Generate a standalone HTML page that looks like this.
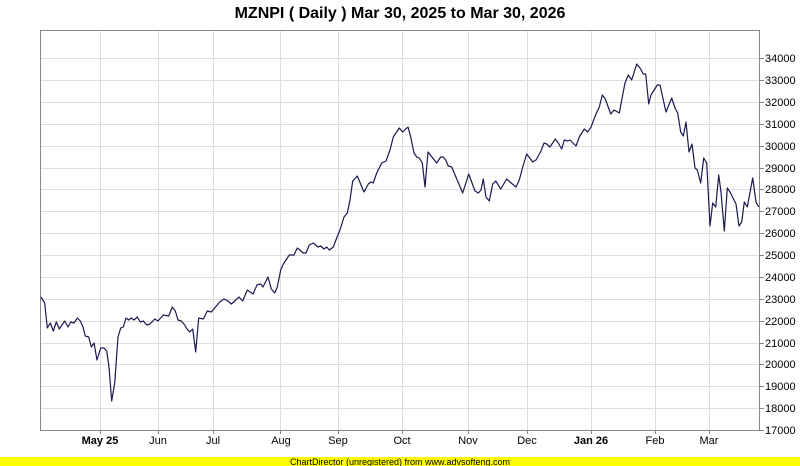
<!DOCTYPE html>
<html><head><meta charset="utf-8"><style>
html,body{margin:0;padding:0;background:#fff}
svg{display:block;font-family:"Liberation Sans",sans-serif}
</style></head><body>
<svg width="800" height="466" viewBox="0 0 800 466" xmlns="http://www.w3.org/2000/svg">
<rect width="800" height="466" fill="#fff"/>
<text x="400" y="18" text-anchor="middle" font-size="16" font-weight="bold" fill="#000">MZNPI ( Daily ) Mar 30, 2025 to Mar 30, 2026</text>
<g stroke="#dcdcdc" stroke-width="1">
<line x1="40" x2="760" y1="58.5" y2="58.5"/><line x1="40" x2="760" y1="80.5" y2="80.5"/><line x1="40" x2="760" y1="102.5" y2="102.5"/><line x1="40" x2="760" y1="124.5" y2="124.5"/><line x1="40" x2="760" y1="146.5" y2="146.5"/><line x1="40" x2="760" y1="168.5" y2="168.5"/><line x1="40" x2="760" y1="189.5" y2="189.5"/><line x1="40" x2="760" y1="211.5" y2="211.5"/><line x1="40" x2="760" y1="233.5" y2="233.5"/><line x1="40" x2="760" y1="255.5" y2="255.5"/><line x1="40" x2="760" y1="277.5" y2="277.5"/><line x1="40" x2="760" y1="299.5" y2="299.5"/><line x1="40" x2="760" y1="321.5" y2="321.5"/><line x1="40" x2="760" y1="343.5" y2="343.5"/><line x1="40" x2="760" y1="364.5" y2="364.5"/><line x1="40" x2="760" y1="386.5" y2="386.5"/><line x1="40" x2="760" y1="408.5" y2="408.5"/>
<line x1="100.5" x2="100.5" y1="30" y2="430"/><line x1="158.5" x2="158.5" y1="30" y2="430"/><line x1="213.5" x2="213.5" y1="30" y2="430"/><line x1="280.5" x2="280.5" y1="30" y2="430"/><line x1="338.5" x2="338.5" y1="30" y2="430"/><line x1="402.5" x2="402.5" y1="30" y2="430"/><line x1="468.5" x2="468.5" y1="30" y2="430"/><line x1="527.5" x2="527.5" y1="30" y2="430"/><line x1="591.5" x2="591.5" y1="30" y2="430"/><line x1="655.5" x2="655.5" y1="30" y2="430"/><line x1="709.5" x2="709.5" y1="30" y2="430"/>
</g>
<rect x="40.5" y="30.5" width="719" height="400" fill="none" stroke="#888" stroke-width="1"/>
<g stroke="#888" stroke-width="1">
<line x1="760" x2="764" y1="58.5" y2="58.5"/><line x1="760" x2="764" y1="80.5" y2="80.5"/><line x1="760" x2="764" y1="102.5" y2="102.5"/><line x1="760" x2="764" y1="124.5" y2="124.5"/><line x1="760" x2="764" y1="146.5" y2="146.5"/><line x1="760" x2="764" y1="168.5" y2="168.5"/><line x1="760" x2="764" y1="189.5" y2="189.5"/><line x1="760" x2="764" y1="211.5" y2="211.5"/><line x1="760" x2="764" y1="233.5" y2="233.5"/><line x1="760" x2="764" y1="255.5" y2="255.5"/><line x1="760" x2="764" y1="277.5" y2="277.5"/><line x1="760" x2="764" y1="299.5" y2="299.5"/><line x1="760" x2="764" y1="321.5" y2="321.5"/><line x1="760" x2="764" y1="343.5" y2="343.5"/><line x1="760" x2="764" y1="364.5" y2="364.5"/><line x1="760" x2="764" y1="386.5" y2="386.5"/><line x1="760" x2="764" y1="408.5" y2="408.5"/><line x1="760" x2="764" y1="430.5" y2="430.5"/>
<line x1="100.5" x2="100.5" y1="430" y2="434"/><line x1="158.5" x2="158.5" y1="430" y2="434"/><line x1="213.5" x2="213.5" y1="430" y2="434"/><line x1="280.5" x2="280.5" y1="430" y2="434"/><line x1="338.5" x2="338.5" y1="430" y2="434"/><line x1="402.5" x2="402.5" y1="430" y2="434"/><line x1="468.5" x2="468.5" y1="430" y2="434"/><line x1="527.5" x2="527.5" y1="430" y2="434"/><line x1="591.5" x2="591.5" y1="430" y2="434"/><line x1="655.5" x2="655.5" y1="430" y2="434"/><line x1="709.5" x2="709.5" y1="430" y2="434"/>
</g>
<g font-size="11" fill="#000">
<text x="765" y="62">34000</text><text x="765" y="84">33000</text><text x="765" y="106">32000</text><text x="765" y="128">31000</text><text x="765" y="150">30000</text><text x="765" y="172">29000</text><text x="765" y="193">28000</text><text x="765" y="215">27000</text><text x="765" y="237">26000</text><text x="765" y="259">25000</text><text x="765" y="281">24000</text><text x="765" y="303">23000</text><text x="765" y="325">22000</text><text x="765" y="347">21000</text><text x="765" y="368">20000</text><text x="765" y="390">19000</text><text x="765" y="412">18000</text><text x="765" y="434">17000</text>
</g>
<g font-size="11" fill="#000" text-anchor="middle">
<text x="100" y="444" font-weight="bold">May 25</text><text x="158" y="444">Jun</text><text x="213" y="444">Jul</text><text x="281" y="444">Aug</text><text x="338" y="444">Sep</text><text x="402" y="444">Oct</text><text x="468" y="444">Nov</text><text x="527" y="444">Dec</text><text x="591" y="444" font-weight="bold">Jan 26</text><text x="655" y="444">Feb</text><text x="709" y="444">Mar</text>
</g>
<polyline fill="none" stroke="#1a1a50" stroke-width="1.2" stroke-linejoin="round" points="
41,297 44.7,303 47.3,328 50.3,323 53.3,331 56.3,322 59.3,329 64.7,321 68,327 70.7,322 74,323 77.3,318 80.3,321 83,327 85.3,336 88.7,337 91.3,347 94,343 97,360 100.7,348 104,348 106.7,351 109,367 111.7,401 114.7,383 118,337 120.7,328 123.3,327 126,318 128.7,320 131.3,318 134,320 137.3,317 140.3,322 143.3,321 146.7,325 150,324 154.7,319 158,321 163.3,315 168.7,316 172.3,307 175.3,311 178,320 181.3,321 184.7,325 187,329 189.7,332 192.7,329 195.7,352 198.7,318 203.3,319 207.3,311 211.3,312 214.7,308 219.7,302 224,299 228,301 231.3,304 239,297 242.7,301 247.3,290 253,294 257,285 260.7,284 263,287 268,277 271.3,289 274.7,293 277.3,287 280.7,270 283.3,264 289.3,255 294,255 297.3,248 303.3,253 306,253 309.3,245 313.3,243 318,247 320.7,246 324,249 326.7,247 329.3,250 333.3,247 336.7,238 340,230 344,217 347.3,213 350,200 352.7,181 357.3,176 364,192 368.3,184 370.7,182 373.3,183 376.7,173 381.7,163 386,161 390,150 393.3,137 399.3,128 402.7,132 408,127 410.7,137 414,153 416.7,157 419.3,158 422.3,163 425,187 428,152 436.7,163 440.7,157 443.3,157 445.7,160 448.3,166 451.7,167 462.7,193 468.7,174 475,191 478.3,193 481,190 483.3,179 486,197 489.3,201 492.7,184 495.7,181 500.7,189 506.7,179 510,182 516,187 519.3,180 522.7,167 526.7,154 532.7,162 536,160 541,151 544,143 546.7,144 550,147 555.3,139 558.3,143 561.7,149 564.3,140 567.7,141 570,140 576,146 579.3,137 584.3,129 587.7,132 591,127 596,114 599.3,107 602.3,95 605.3,99 610.7,114 614,110 619.3,113 622.7,95 625,83 628.3,75 631.7,80 636.7,64 640,68 643.3,74 645.7,74 648.7,104 651,95 657.3,85 660,85 663.3,100 666,112 671.7,98 675,108 677.7,113 680.7,132 683.3,136 686,122 689,152 692,144 695,168 697.3,170 700.7,183 703.7,158 706.7,163 710,226 712.7,203 715.7,207 718.7,175 721,192 724.3,231 727.3,188 730,192 736,204 739,226 741.7,222 744.3,202 747.3,207 752.7,178 756,202 758.7,207"/>
<rect x="0" y="457" width="800" height="9" fill="#ffff00"/>
<text x="400" y="465" text-anchor="middle" font-size="9" fill="#000">ChartDirector (unregistered) from www.advsofteng.com</text>
</svg>
</body></html>
